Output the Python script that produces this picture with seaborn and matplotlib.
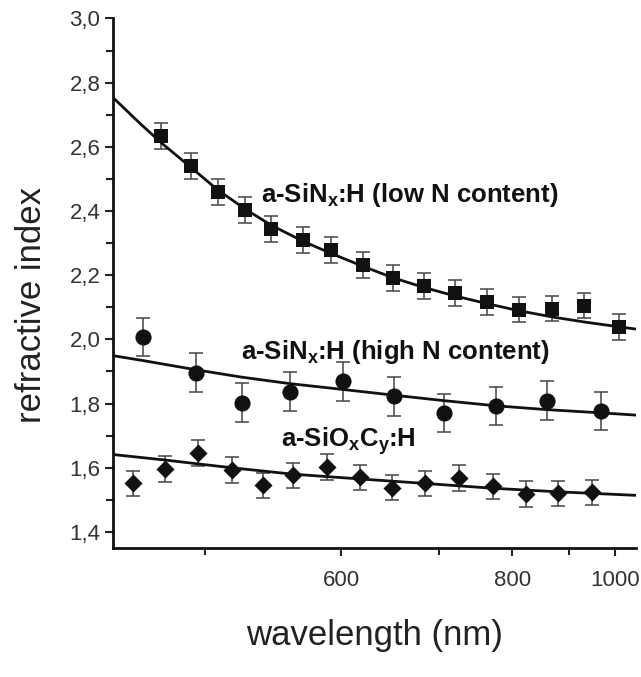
import numpy as np
import pandas as pd
import matplotlib
matplotlib.use("Agg")
import matplotlib.pyplot as plt
from matplotlib.ticker import FixedLocator, FuncFormatter
import seaborn as sns

# measured points (wavelength in nm, refractive index)
low_wl = [475, 492, 508, 526, 544, 568, 591, 620, 649, 682, 720, 763, 811, 867, 931, 1011]
low_n = [2.633, 2.541, 2.459, 2.402, 2.344, 2.310, 2.278, 2.232, 2.191, 2.166,
         2.144, 2.117, 2.093, 2.096, 2.105, 2.039]
low_err = [0.04] * 16

high_wl = [465, 495, 524, 558, 601, 650, 706, 775, 858, 967]
high_n = [2.007, 1.896, 1.803, 1.837, 1.869, 1.822, 1.771, 1.793, 1.809, 1.777]
high_err = [0.06] * 10

sioc_wl = [460, 477, 496, 517, 538, 560, 588, 617, 648, 684, 725, 771, 822, 878, 947]
sioc_n = [1.551, 1.597, 1.646, 1.593, 1.545, 1.576, 1.603, 1.570, 1.538, 1.551,
          1.567, 1.542, 1.519, 1.520, 1.523]
sioc_err = [0.04] * 15

# fitted curves
fit_low_wl = [450, 464, 475, 492, 508, 526, 544, 568, 591, 620, 649, 682, 720, 763, 811, 867, 931, 1011, 1054]
fit_low_n = [2.752, 2.670, 2.612, 2.535, 2.466, 2.406, 2.356, 2.306, 2.268, 2.227,
             2.192, 2.162, 2.135, 2.111, 2.089, 2.070, 2.054, 2.039, 2.032]
fit_high_wl = [450, 465, 495, 524, 558, 601, 650, 706, 775, 858, 967, 1054]
fit_high_n = [1.949, 1.934, 1.905, 1.882, 1.862, 1.844, 1.826, 1.809, 1.793, 1.781, 1.771, 1.764]
fit_sioc_wl = [450, 477, 496, 517, 560, 617, 684, 771, 878, 1054]
fit_sioc_n = [1.641, 1.624, 1.612, 1.600, 1.580, 1.565, 1.551, 1.536, 1.525, 1.514]

sns.set_style("ticks")
plt.rcParams["font.family"] = ["Liberation Sans", "DejaVu Sans"]
plt.rcParams["mathtext.fontset"] = "custom"
plt.rcParams["mathtext.bf"] = "Liberation Sans:bold"
plt.rcParams["mathtext.rm"] = "Liberation Sans"


def to_energy(x):
    x = np.asarray(x, dtype=float)
    return -1.0 / np.clip(x, 1e-6, None)


def from_energy(y):
    y = np.asarray(y, dtype=float)
    return -1.0 / np.clip(y, None, -1e-12)


fig = plt.figure(figsize=(6.41, 6.77), dpi=100)
ax = fig.add_axes([0.177, 0.1906, 0.815, 0.7822])
ax.set_xlim(450, 1054)
ax.set_ylim(1.35, 3.0)
# x axis is linear in photon energy (1/wavelength)
ax.set_xscale("function", functions=(to_energy, from_energy))

ink = "#111111"
sets = [
    (low_wl, low_n, low_err, "s", 105),
    (high_wl, high_n, high_err, "o", 135),
    (sioc_wl, sioc_n, sioc_err, "D", 85),
]
for wl, n, err, mk, size in sets:
    ax.errorbar(wl, n, yerr=err, fmt="none", ecolor="#444444", elinewidth=1.1,
                capsize=5, capthick=1.1, zorder=2)
    sns.scatterplot(x=wl, y=n, marker=mk, s=size, color=ink, edgecolor=ink,
                    linewidth=0, ax=ax, zorder=3)

for wl, n in [(fit_low_wl, fit_low_n), (fit_high_wl, fit_high_n), (fit_sioc_wl, fit_sioc_n)]:
    sns.lineplot(x=wl, y=n, color=ink, linewidth=2.0, ax=ax, zorder=4, sort=False)

ax.text(537, 2.45, r"a-SiN$_\mathbf{x}$:H (low N content)", fontsize=18.5,
        fontweight="bold", color=ink, va="center", ha="left")
ax.text(523, 1.96, r"a-SiN$_\mathbf{x}$:H (high N content)", fontsize=18.5,
        fontweight="bold", color=ink, va="center", ha="left")
ax.text(551, 1.682, r"a-SiO$_\mathbf{x}$C$_\mathbf{y}$:H", fontsize=18.5,
        fontweight="bold", color=ink, va="center", ha="left")

ax.set_xlim(450, 1054)
ax.set_ylim(1.35, 3.0)

ax.xaxis.set_major_locator(FixedLocator([600, 800, 1000]))
ax.xaxis.set_minor_locator(FixedLocator([500, 700, 900]))
ax.xaxis.set_major_formatter(FuncFormatter(lambda v, p: f"{v:.0f}"))
ax.xaxis.set_minor_formatter(FuncFormatter(lambda v, p: ""))
ax.yaxis.set_major_locator(FixedLocator(np.arange(1.4, 3.01, 0.2)))
ax.yaxis.set_minor_locator(FixedLocator(np.arange(1.5, 3.0, 0.2)))
ax.yaxis.set_major_formatter(FuncFormatter(lambda v, p: f"{v:.1f}".replace(".", ",")))

ax.tick_params(which="both", direction="out", width=1.5, color="#222222",
               labelsize=16, labelcolor="#333333")
ax.tick_params(which="major", length=6)
ax.tick_params(which="minor", length=5)
ax.tick_params(axis="x", pad=10)

sns.despine(ax=ax)
for side in ["left", "bottom"]:
    ax.spines[side].set_linewidth(2)
    ax.spines[side].set_color("#111111")

ax.set_xlabel("wavelength (nm)", fontsize=25, color="#222222", labelpad=20)
ax.set_ylabel("refractive index", fontsize=25, color="#222222")
ax.yaxis.set_label_coords(-0.125, 0.458)

fig.savefig("out.png", dpi=100)
